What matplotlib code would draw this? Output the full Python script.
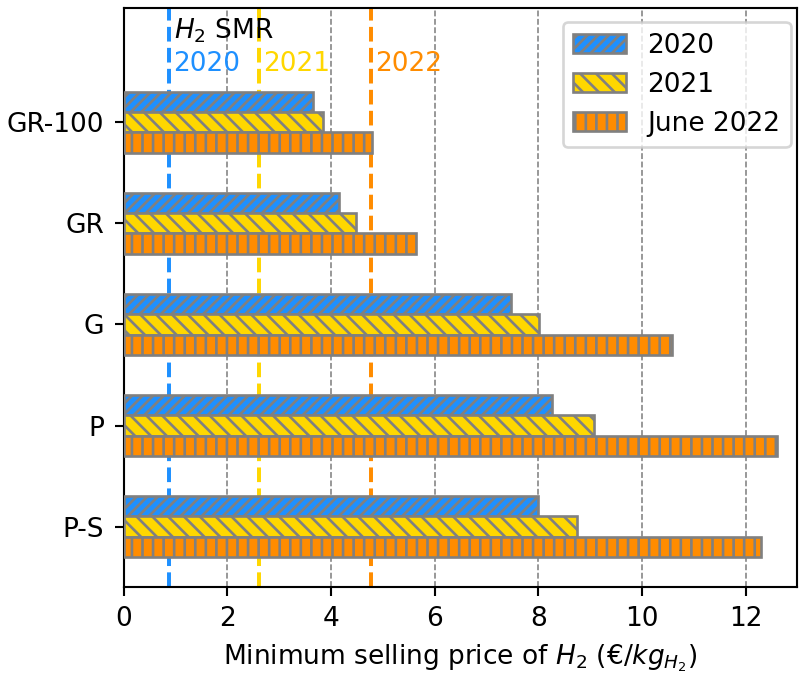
import matplotlib
matplotlib.use("Agg")
import matplotlib.pyplot as plt
import numpy as np

# data
categories = ['P-S', 'P', 'G', 'GR', 'GR-100']
price_2020 = [8.00, 8.27, 7.48, 4.16, 3.66]
price_2021 = [8.74, 9.07, 8.02, 4.48, 3.85]
price_2022 = [12.30, 12.60, 10.58, 5.63, 4.78]
series_labels = ['2020', '2021', 'June 2022']
smr_years = ['2020', '2021', '2022']
smr_price = [0.88, 2.61, 4.77]

colors = ['dodgerblue', 'gold', 'darkorange']
hatches = ['//////', '\\\\\\\\', '|||']

dpi = 190
fig = plt.figure(figsize=(799 / dpi, 675 / dpi), dpi=dpi)
ax = fig.add_axes([0.155, 0.130, 0.843, 0.858])

y = np.arange(len(categories))
h = 0.2
for i, (vals, lab) in enumerate(zip([price_2020, price_2021, price_2022], series_labels)):
    ax.barh(y + (1 - i) * h, vals, height=h, color=colors[i], edgecolor='gray',
            hatch=hatches[i], label=lab, zorder=3)

for xv, yr, c in zip(smr_price, smr_years, colors):
    ax.axvline(xv, color=c, linestyle='--', lw=1.5, zorder=2)
    ax.text(xv + 0.08, 4.58, yr, color=c, va='center', ha='left', fontsize=10)
ax.text(smr_price[0] + 0.08, 4.91, '$H_2$ SMR', va='center', ha='left', fontsize=10)

ax.set_yticks(y)
ax.set_yticklabels(categories)
ax.tick_params(axis='y', pad=4)
ax.set_xlim(0, 13)
ax.set_ylim(-0.6, 5.13)
ax.set_xticks([0, 2, 4, 6, 8, 10, 12])
ax.xaxis.grid(True, linestyle='--', color='gray', lw=0.6, zorder=0)
ax.set_axisbelow(True)
ax.set_xlabel('Minimum selling price of $H_2$ (€/$kg_{H_2}$)')
ax.legend(loc='upper right', bbox_to_anchor=(0.99, 0.976), borderaxespad=0)

fig.savefig('out.png', dpi=dpi)
